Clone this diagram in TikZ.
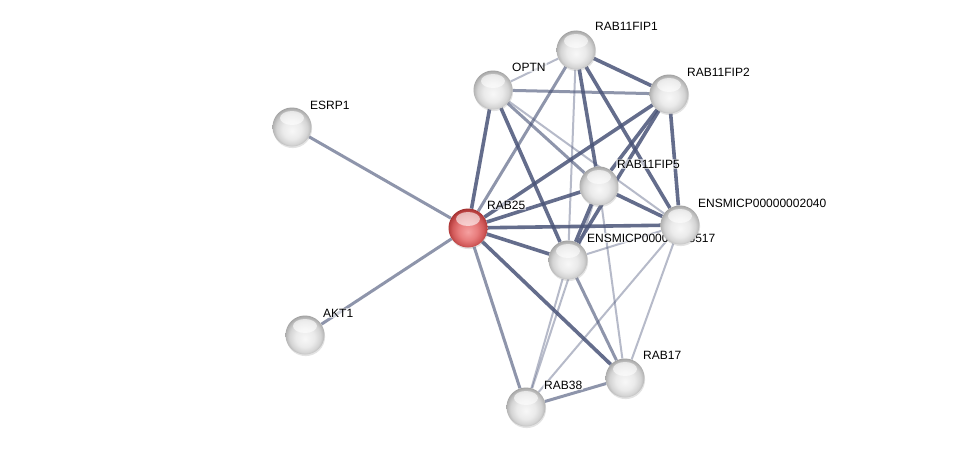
\documentclass[tikz,border=0pt]{standalone}
\usepackage{fontspec}
\setmainfont{Liberation Sans}
\usetikzlibrary{shadows}
\definecolor{edgec}{RGB}{74,84,120}
\pgfdeclarelayer{bg}
\pgfdeclarelayer{edges}
\pgfdeclarelayer{labels}
\pgfsetlayers{bg,edges,labels,main}
\pgfdeclareradialshading{ballgray}{\pgfpoint{0bp}{-5bp}}{%
  color(0bp)=(white!97!black); color(12bp)=(white!92!black); color(20bp)=(white!83!black);
  color(25bp)=(white!70!black); color(29bp)=(white!55!black); color(40bp)=(white!50!black)}
\pgfdeclareradialshading{ballred}{\pgfpoint{0bp}{-5bp}}{%
  color(0bp)=(rgb,255:red,245;green,160;blue,160); color(12bp)=(rgb,255:red,232;green,125;blue,125);
  color(20bp)=(rgb,255:red,210;green,90;blue,90); color(25bp)=(rgb,255:red,180;green,60;blue,60);
  color(29bp)=(rgb,255:red,140;green,35;blue,35); color(40bp)=(rgb,255:red,120;green,30;blue,30)}
\tikzset{
  prot/.style={circle, minimum size=39pt, inner sep=0pt, shading=ballgray,
    drop shadow={opacity=0.22, shadow xshift=0.6pt, shadow yshift=-1.6pt},
    path picture={\fill[white, opacity=0.6] ([yshift=9pt]path picture bounding box.center) ellipse (12pt and 7pt);}},
  protq/.style={prot, shading=ballred},
  lbl/.style={anchor=base west, font=\fontsize{12pt}{14pt}\selectfont, inner sep=1pt,
    fill=white, fill opacity=0.6, text opacity=1},
  ethick/.style={draw=edgec, line width=3.6pt, draw opacity=0.85},
  emed/.style={draw=edgec, line width=3pt, draw opacity=0.62},
  elight/.style={draw=edgec, line width=2pt, draw opacity=0.4},
}
\begin{document}
\begin{tikzpicture}[x=1pt, y=-1pt]
\begin{pgfonlayer}{bg}
\fill[white] (0,0) rectangle (976,452);
\end{pgfonlayer}
\useasboundingbox (0,0) rectangle (976,452);
% nodes
\node[prot]  (F1)  at (576,50)  {};
\node[prot]  (OP)  at (493,90)  {};
\node[prot]  (F2)  at (669,94)  {};
\node[prot]  (ES)  at (292,127) {};
\node[prot]  (F5)  at (599,186) {};
\node[protq] (R25) at (468,228) {};
\node[prot]  (E40) at (680,225) {};
\node[prot]  (E17) at (568,260) {};
\node[prot]  (AK)  at (305,335) {};
\node[prot]  (R17) at (625,378) {};
\node[prot]  (R38) at (526,407) {};
% labels
\begin{pgfonlayer}{labels}
\node[lbl] at ([shift={(18,-19)}]F1.center)  {RAB11FIP1};
\node[lbl] at ([shift={(18,-19)}]OP.center)  {OPTN};
\node[lbl] at ([shift={(17,-18)}]F2.center)  {RAB11FIP2};
\node[lbl] at ([shift={(17,-18)}]ES.center)  {ESRP1};
\node[lbl] at ([shift={(17,-18)}]F5.center)  {RAB11FIP5};
\node[lbl] at ([shift={(18,-19)}]R25.center) {RAB25};
\node[lbl] at ([shift={(17,-18)}]E40.center) {ENSMICP00000002040};
\node[lbl] at ([shift={(18,-18)}]E17.center) {ENSMICP00000008517};
\node[lbl] at ([shift={(17,-18)}]AK.center)  {AKT1};
\node[lbl] at ([shift={(17,-19)}]R17.center) {RAB17};
\node[lbl] at ([shift={(17,-18)}]R38.center) {RAB38};
\end{pgfonlayer}
% edges
\begin{pgfonlayer}{edges}
\draw[emed]   (ES) -- (R25);
\draw[emed]   (AK) -- (R25);
\draw[elight] (OP) -- (F1);
\draw[emed]   (OP) -- (F2);
\draw[ethick] (F1) -- (F2);
\draw[ethick] (OP) -- (R25);
\draw[emed]   (F1) -- (R25);
\draw[ethick] (F2) -- (R25);
\draw[ethick] (F1) -- (F5);
\draw[elight] (F1) -- (E17);
\draw[ethick] (F1) -- (E40);
\draw[ethick] (F2) -- (F5);
\draw[ethick] (F2) -- (E17);
\draw[ethick] (F2) -- (E40);
\draw[ethick] (OP) -- (E17);
\draw[emed]   (OP) -- (F5);
\draw[elight] (OP) -- (E40);
\draw[ethick] (R25) -- (F5);
\draw[ethick] (R25) -- (E40);
\draw[ethick] (R25) -- (E17);
\draw[emed]   (R25) -- (R38);
\draw[ethick] (R25) -- (R17);
\draw[ethick] (F5) -- (E40);
\draw[ethick] (F5) -- (E17);
\draw[elight] (F5) -- (R17);
\draw[elight] (E17) -- (E40);
\draw[elight] (E17) -- (R38);
\draw[elight] (F5) -- (R38);
\draw[emed]   (E17) -- (R17);
\draw[elight] (E40) -- (R38);
\draw[elight] (E40) -- (R17);
\draw[emed]   (R38) -- (R17);
\end{pgfonlayer}
\end{tikzpicture}
\end{document}
